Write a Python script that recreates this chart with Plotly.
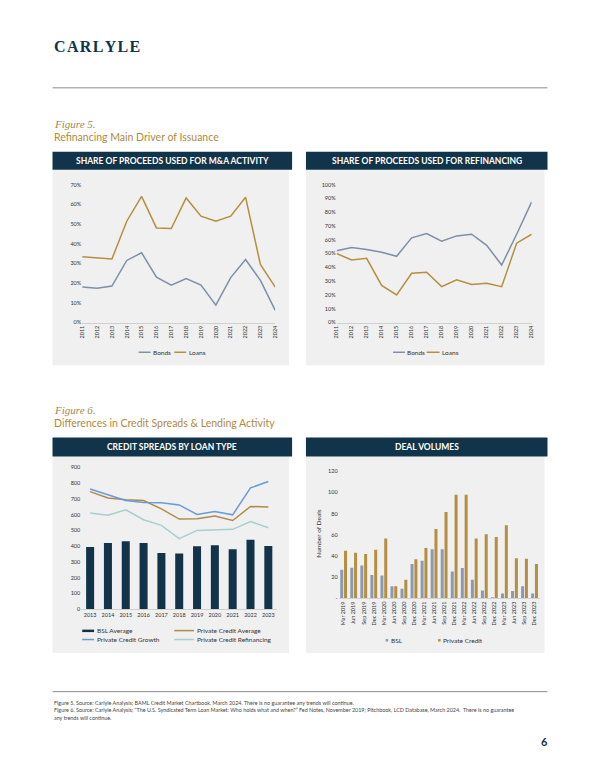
import plotly.graph_objects as go

W, H = 600, 776
def px(x): return x / W
def py(y): return 1 - y / H

# ---------------- DATA ----------------
years_a = ["2011", "2012", "2013", "2014", "2015", "2016", "2017", "2018", "2019", "2020", "2021", "2022", "2023", "2024"]
ma_bonds = [18.0, 17.4, 18.5, 31.5, 35.4, 23.0, 19.0, 22.3, 19.0, 8.8, 22.8, 32.0, 21.4, 6.2]
ma_loans = [33.4, 32.9, 32.2, 51.4, 64.0, 48.0, 47.7, 63.2, 54.0, 51.4, 54.0, 63.6, 29.5, 18.0]
refi_bonds = [52.0, 54.4, 53.0, 51.0, 48.0, 61.4, 64.5, 59.0, 62.8, 64.0, 56.0, 41.7, 64.0, 87.5]
refi_loans = [50.0, 45.3, 46.5, 26.9, 20.0, 35.7, 36.5, 26.0, 31.0, 27.6, 28.5, 26.0, 57.5, 64.0]

years_c = ["2013", "2014", "2015", "2016", "2017", "2018", "2019", "2020", "2021", "2022", "2023"]
bsl_avg = [395, 420, 431, 420, 357, 353, 400, 406, 380, 441, 402]
pc_avg = [746, 706, 694, 690, 637, 572, 574, 591, 563, 652, 648]
pc_growth = [763, 727, 690, 677, 675, 662, 601, 620, 599, 770, 810]
pc_refi = [610, 597, 631, 568, 532, 448, 500, 502, 507, 557, 517]

quarters = ["Mar 2019", "Jun 2019", "Sep 2019", "Dec 2019", "Mar 2020", "Jun 2020", "Sep 2020", "Dec 2020",
            "Mar 2021", "Jun 2021", "Sep 2021", "Dec 2021", "Mar 2022", "Jun 2022", "Sep 2022", "Dec 2022",
            "Mar 2023", "Jun 2023", "Sep 2023", "Dec 2023"]
deals_bsl = [27, 29, 31, 22, 21.5, 11.5, 9, 32.5, 35.6, 46.5, 46.5, 25.3, 28.7, 17.5, 7.5, 0.6, 4.7, 7, 11.5, 4.7]
deals_pc = [45, 43, 42, 46, 56.5, 11.5, 17.5, 37, 47.5, 65.6, 81.5, 98, 98, 56.5, 60.6, 58, 69, 38, 37.5, 32.5]

pct_ticks_a = [0, 0.1, 0.2, 0.3, 0.4, 0.5, 0.6, 0.7]
pct_ticks_b = [0, 0.1, 0.2, 0.3, 0.4, 0.5, 0.6, 0.7, 0.8, 0.9, 1.0]
spread_ticks = [0, 100, 200, 300, 400, 500, 600, 700, 800, 900]
deal_ticks = [0, 20, 40, 60, 80, 100, 120]
deal_tick_text = ["-", "20", "40", "60", "80", "100", "120"]

# ---------------- STYLE ----------------
FONT = "Lato"
NAVY = "#12344a"
GOLD = "#b08a3e"
BONDS = "#7d8fa9"
LOANS = "#b58f3f"
PC_AVG = "#b08a48"
PC_GROWTH = "#6a9bd8"
PC_REFI = "#a8cfcf"
D_BSL = "#8a9ab3"
PANEL = "#f0f0f0"
TXT = "#333333"
TICK = dict(family=FONT, size=5.5, color=TXT)

fig = go.Figure()

# Chart A
fig.add_trace(go.Scatter(x=years_a, y=[v / 100 for v in ma_bonds], mode="lines", name="Bonds",
                         line=dict(color=BONDS, width=1.5), xaxis="x", yaxis="y"))
fig.add_trace(go.Scatter(x=years_a, y=[v / 100 for v in ma_loans], mode="lines", name="Loans",
                         line=dict(color=LOANS, width=1.5), xaxis="x", yaxis="y"))
# Chart B
fig.add_trace(go.Scatter(x=years_a, y=[v / 100 for v in refi_bonds], mode="lines", name="Bonds",
                         line=dict(color=BONDS, width=1.5), xaxis="x2", yaxis="y2"))
fig.add_trace(go.Scatter(x=years_a, y=[v / 100 for v in refi_loans], mode="lines", name="Loans",
                         line=dict(color=LOANS, width=1.5), xaxis="x2", yaxis="y2"))
# Chart C
fig.add_trace(go.Bar(x=years_c, y=bsl_avg, name="BSL Average", marker=dict(color=NAVY, line=dict(width=0)),
                     width=0.45, xaxis="x3", yaxis="y3"))
fig.add_trace(go.Scatter(x=years_c, y=pc_avg, mode="lines", name="Private Credit Average",
                         line=dict(color=PC_AVG, width=1.5), xaxis="x3", yaxis="y3"))
fig.add_trace(go.Scatter(x=years_c, y=pc_growth, mode="lines", name="Private Credit Growth",
                         line=dict(color=PC_GROWTH, width=1.5), xaxis="x3", yaxis="y3"))
fig.add_trace(go.Scatter(x=years_c, y=pc_refi, mode="lines", name="Private Credit Refinancing",
                         line=dict(color=PC_REFI, width=1.5), xaxis="x3", yaxis="y3"))
# Chart D
fig.add_trace(go.Bar(x=quarters, y=deals_bsl, name="BSL", marker=dict(color=D_BSL, line=dict(width=0)),
                     width=0.3, offset=-0.34, xaxis="x4", yaxis="y4"))
fig.add_trace(go.Bar(x=quarters, y=deals_pc, name="Private Credit", marker=dict(color=LOANS, line=dict(width=0)),
                     width=0.3, offset=0.04, xaxis="x4", yaxis="y4"))

def xax(x0, x1, angle, anchor):
    return dict(domain=[px(x0), px(x1)], anchor=anchor, showgrid=False, zeroline=False,
                showline=True, linecolor="#d0d0d0", linewidth=1, ticks="", tickangle=angle,
                tickfont=TICK, type="category", fixedrange=True)

def yax(y0, y1, rng, anchor, tickvals, ticktext=None, fmt=None):
    d = dict(domain=[py(y0), py(y1)], anchor=anchor, range=rng, showgrid=False, zeroline=False,
             showline=False, ticks="", tickvals=tickvals, tickfont=TICK, fixedrange=True)
    if ticktext is not None:
        d["ticktext"] = ticktext
    if fmt:
        d["tickformat"] = fmt
    return d

fig.update_layout(
    width=W, height=H, autosize=False, margin=dict(l=0, r=0, t=0, b=0),
    paper_bgcolor="white", plot_bgcolor="rgba(0,0,0,0)", showlegend=False,
    font=dict(family=FONT, color=TXT),
    xaxis=xax(80, 275, -90, "y"),
    yaxis=yax(322, 183, [0, 0.7], "x", pct_ticks_a, fmt=".0%"),
    xaxis2=xax(337, 534, -90, "y2"),
    yaxis2=yax(322, 183, [0, 1.0], "x2", pct_ticks_b, fmt=".0%"),
    xaxis3=xax(79, 277, 0, "y3"),
    yaxis3=yax(611, 468, [0, 900], "x3", spread_ticks),
    xaxis4=xax(339, 542, -90, "y4"),
    yaxis4=yax(600, 472, [0, 120], "x4", deal_ticks, deal_tick_text),
)

shapes = []
anns = []

def text(t, x, y, size, color=TXT, family=FONT, xanchor="left", angle=0):
    anns.append(dict(text=t, x=px(x), y=py(y), xref="paper", yref="paper", showarrow=False,
                     xanchor=xanchor, yanchor="middle", textangle=angle,
                     font=dict(family=family, size=size, color=color)))

# panels and headers
panels = [
    (50, 292, 150, 168, 365, "SHARE OF PROCEEDS USED FOR M&A ACTIVITY"),
    (306, 550, 150, 168, 365, "SHARE OF PROCEEDS USED FOR REFINANCING"),
    (50, 292, 438, 457, 655, "CREDIT SPREADS BY LOAN TYPE"),
    (306, 550, 438, 457, 655, "DEAL VOLUMES"),
]
for x0, x1, y0, ym, y1, title in panels:
    shapes.append(dict(type="rect", xref="paper", yref="paper", x0=px(x0), x1=px(x1 - 3), y0=py(ym), y1=py(y1),
                       fillcolor=PANEL, line=dict(width=0), layer="below"))
    shapes.append(dict(type="rect", xref="paper", yref="paper", x0=px(x0), x1=px(x1), y0=py(y0), y1=py(ym),
                       fillcolor=NAVY, line=dict(width=0), layer="below"))
    text("<b>" + title + "</b>", (x0 + x1) / 2, (y0 + ym) / 2, 8.5, "white", xanchor="center")

# legends (drawn manually: short key + label)
def key_line(x0, x1, y, color, width=1.5):
    shapes.append(dict(type="line", xref="paper", yref="paper", x0=px(x0), x1=px(x1), y0=py(y), y1=py(y),
                       line=dict(color=color, width=width)))

def key_rect(x0, x1, y0, y1, color):
    shapes.append(dict(type="rect", xref="paper", yref="paper", x0=px(x0), x1=px(x1), y0=py(y0), y1=py(y1),
                       fillcolor=color, line=dict(width=0)))

LEGSZ = 6.5
key_line(137, 149, 352, BONDS); text("Bonds", 149.5, 352, LEGSZ)
key_line(173, 185, 352, LOANS); text("Loans", 185.5, 352, LEGSZ)
key_line(394, 406, 352, BONDS); text("Bonds", 406.5, 352, LEGSZ)
key_line(428, 441, 352, LOANS); text("Loans", 441.5, 352, LEGSZ)
key_rect(80, 92, 631.5, 634, NAVY); text("BSL Average", 92.5, 632.5, LEGSZ)
key_line(173, 193, 632.5, PC_AVG); text("Private Credit Average", 193.5, 632.5, LEGSZ)
key_line(80, 92, 641.5, PC_GROWTH); text("Private Credit Growth", 92.5, 641.5, LEGSZ)
key_line(173, 193, 641.5, PC_REFI); text("Private Credit Refinancing", 193.5, 641.5, LEGSZ)
key_rect(386.5, 389, 641, 643.5, D_BSL); text("BSL", 389.5, 642, LEGSZ)
key_rect(439.5, 442, 641, 643.5, LOANS); text("Private Credit", 442.5, 642, LEGSZ)

# rules
shapes.append(dict(type="line", xref="paper", yref="paper", x0=px(50), x1=px(550), y0=py(85.5), y1=py(85.5),
                   line=dict(color="#8c8c8c", width=1)))
shapes.append(dict(type="line", xref="paper", yref="paper", x0=px(50), x1=px(550), y0=py(694), y1=py(694),
                   line=dict(color="#8c8c8c", width=1)))

# logo
HS = "\u200a"
text("<b>" + HS.join("CARLYLE") + "</b>", 49, 44, 16, NAVY, family="Liberation Serif")

# figure titles
text("<i>Figure 5.</i>", 49, 122, 11, "#a3864d", family="Liberation Serif")
text("Refinancing Main Driver of Issuance", 49, 135, 10.5, GOLD)
text("<i>Figure 6.</i>", 49, 410, 11, "#a3864d", family="Liberation Serif")
text("Differences in Credit Spreads & Lending Activity", 49, 423, 10.5, GOLD)

# y axis title for deal volumes
text("Number of Deals", 319, 535, 6.5, xanchor="center", angle=-90)

# footer
foot = [
    (705, "Figure 5. Source: Carlyle Analysis; BAML Credit Market Chartbook, March 2024. There is no guarantee any trends will continue."),
    (713, "Figure 6. Source: Carlyle Analysis; “The U.S. Syndicated Term Loan Market: Who holds what and when?” Fed Notes, November 2019; Pitchbook, LCD Database, March 2024.  There is no guarantee"),
    (721, "any trends will continue."),
]
for y, t in foot:
    text(t, 49, y, 5.4, "#444444")
text("<b>6</b>", 553, 744, 11, NAVY, xanchor="right")

fig.update_layout(shapes=shapes, annotations=anns)
fig.write_html("out.html", config=dict(displayModeBar=False),
               post_script="document.body.style.margin='0';document.body.style.overflow='hidden';")
